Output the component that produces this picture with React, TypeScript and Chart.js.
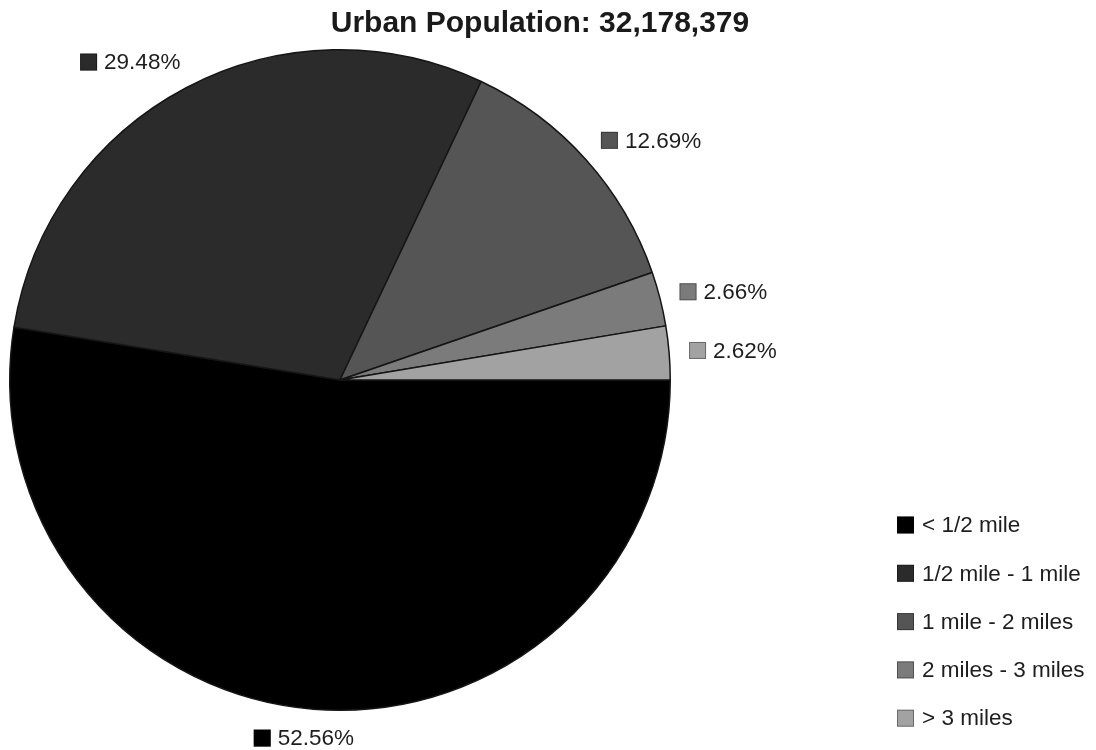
import React, { useEffect, useRef } from "react";
import { Chart, registerables } from "chart.js";

Chart.register(...registerables);

const chartTitle = "Urban Population: 32,178,379";
const categories = ["< 1/2 mile", "1/2 mile - 1 mile", "1 mile - 2 miles", "2 miles - 3 miles", "> 3 miles"];
const shares = [52.56, 29.48, 12.69, 2.66, 2.62];
const colors = ["#000000", "#2b2b2b", "#555555", "#7b7b7b", "#a2a2a2"];

const FONT = "'Liberation Sans', Arial, Helvetica, sans-serif";

const overlayPlugin = {
  id: "overlay",
  afterDraw(chart: any) {
    const ctx = chart.ctx as CanvasRenderingContext2D;
    ctx.save();
    // Title
    ctx.fillStyle = "#1a1a1a";
    ctx.font = `bold 30px ${FONT}`;
    ctx.textAlign = "center";
    ctx.textBaseline = "alphabetic";
    ctx.fillText(chartTitle, 540, 32);

    // Slice labels
    const meta = chart.getDatasetMeta(0);
    ctx.font = `22.5px ${FONT}`;
    ctx.textAlign = "left";
    ctx.textBaseline = "middle";
    const sq = 17;
    const gap = 7;
    const h = 18;
    meta.data.forEach((arc: any, i: number) => {
      const p = arc.getProps(["x", "y", "startAngle", "endAngle", "outerRadius"], true);
      const mid = (p.startAngle + p.endAngle) / 2;
      const c = Math.cos(mid);
      const s = Math.sin(mid);
      const D = p.outerRadius + 20;
      const px = p.x + D * c;
      const py = p.y + D * s;
      const text = shares[i].toFixed(2) + "%";
      const tw = ctx.measureText(text).width;
      const w = sq + gap + tw;
      const sx = Math.max(-1, Math.min(1, 2 * c));
      const cx = px + (w / 2) * sx;
      const cy = py + (h / 2) * s;
      const left = cx - w / 2;
      ctx.fillStyle = colors[i];
      ctx.fillRect(left, cy - sq / 2, sq, sq);
      ctx.strokeStyle = "rgba(0,0,0,0.35)";
      ctx.lineWidth = 1;
      ctx.strokeRect(left + 0.5, cy - sq / 2 + 0.5, sq - 1, sq - 1);
      ctx.fillStyle = "#1e1e1e";
      ctx.fillText(text, left + sq + gap, cy + 1);
    });

    // Legend
    const lx = 897;
    const ly0 = 525;
    const step = 48.3;
    categories.forEach((cat, i) => {
      const y = ly0 + i * step;
      ctx.fillStyle = colors[i];
      ctx.fillRect(lx, y - sq / 2, sq, sq);
      ctx.strokeStyle = "rgba(0,0,0,0.35)";
      ctx.strokeRect(lx + 0.5, y - sq / 2 + 0.5, sq - 1, sq - 1);
      ctx.fillStyle = "#1e1e1e";
      ctx.fillText(cat, lx + sq + 8, y + 1);
    });
    ctx.restore();
  },
};

export default function App() {
  const ref = useRef<HTMLCanvasElement | null>(null);
  useEffect(() => {
    if (!ref.current) return;
    const chart = new Chart(ref.current, {
      type: "pie",
      data: {
        labels: categories,
        datasets: [
          {
            data: shares,
            backgroundColor: colors,
            borderColor: "#151515",
            borderWidth: 1.5,
          },
        ],
      },
      options: {
        responsive: false,
        animation: false,
        rotation: 90,
        layout: { padding: { left: 9, top: 49, right: 425, bottom: 39 } },
        plugins: {
          legend: { display: false },
          title: { display: false },
          tooltip: { enabled: false },
        },
      },
      plugins: [overlayPlugin],
    } as any);
    return () => chart.destroy();
  }, []);
  return (
    <div style={{ position: "fixed", left: 0, top: 0, width: 1096, height: 750, background: "#ffffff" }}>
      <canvas ref={ref} width={1096} height={750} style={{ display: "block" }} />
    </div>
  );
}
